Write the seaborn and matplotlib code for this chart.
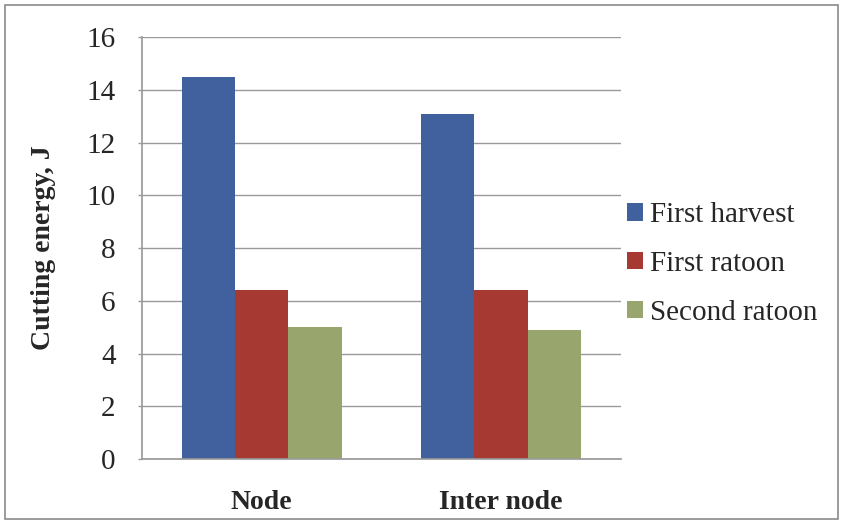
import matplotlib
matplotlib.use("Agg")
import matplotlib.pyplot as plt
import seaborn as sns
import pandas as pd
from matplotlib.patches import Rectangle

categories = ["Node", "Inter node"]
series = ["First harvest", "First ratoon", "Second ratoon"]
first_harvest = [14.5, 13.1]
first_ratoon = [6.4, 6.4]
second_ratoon = [5.0, 4.9]
colors = ["#41609E", "#A63A32", "#98A66E"]

rows = []
for s, vals in zip(series, [first_harvest, first_ratoon, second_ratoon]):
    for c, v in zip(categories, vals):
        rows.append({"Part": c, "Series": s, "Energy": v})
df = pd.DataFrame(rows)

sns.set_theme(style="white")
plt.rcParams["font.family"] = ["Liberation Serif", "DejaVu Serif"]

fig = plt.figure(figsize=(8.41, 5.24), dpi=100)
ax = fig.add_axes([0.169, 0.124, 0.569, 0.805])
sns.barplot(data=df, x="Part", y="Energy", hue="Series", order=categories,
            hue_order=series, palette=colors, width=0.667, saturation=1,
            linewidth=0, ax=ax, legend=True)

ax.set_ylim(0, 16)
ax.set_xlim(-0.5, 1.5)
ax.set_yticks(range(0, 17, 2))
ax.yaxis.grid(True, color="#9a9a9a", linewidth=1.0)
ax.set_axisbelow(True)
for sp in ["top", "right"]:
    ax.spines[sp].set_visible(False)
ax.spines["left"].set_color("#9a9a9a")
ax.spines["bottom"].set_color("#9a9a9a")
ax.tick_params(axis="y", length=3, width=1, color="#9a9a9a", labelsize=21, pad=16, left=True)
ax.tick_params(axis="x", length=0, labelsize=20, pad=22)
for lab in ax.get_xticklabels():
    lab.set_fontweight("bold")
ax.set_xlabel("")
ax.set_ylabel("Cutting energy, J", fontsize=20, fontweight="bold", labelpad=22)

leg = ax.legend(loc="center left", bbox_to_anchor=(627 / 841, 1 - 264 / 524),
                bbox_transform=fig.transFigure, frameon=False,
                fontsize=21, handlelength=0.55, handleheight=0.55, handletextpad=0.25,
                labelspacing=0.78, borderaxespad=0.0, borderpad=0.0)

fig.patches.append(Rectangle((0.006, 0.01), 0.99, 0.98, transform=fig.transFigure,
                             fill=False, edgecolor="#8a8a8a", linewidth=1.2))

fig.savefig("out.png", dpi=100)
